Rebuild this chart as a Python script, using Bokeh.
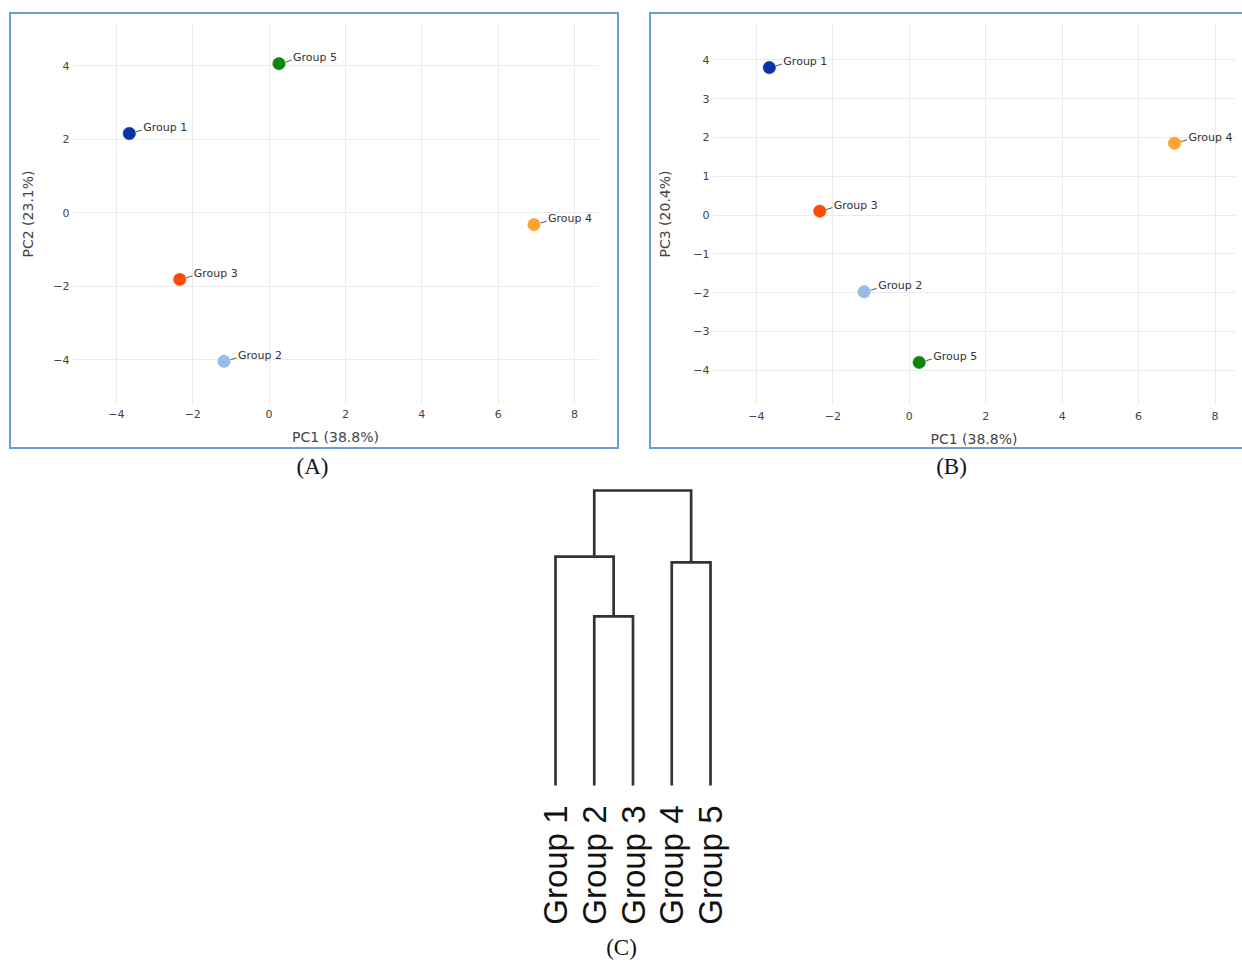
import math
from bokeh.plotting import figure
from bokeh.layouts import column, row
from bokeh.models import Spacer, FixedTicker, CustomJSTickFormatter, ColumnDataSource, Range1d
from bokeh.core.properties import value
from bokeh.embed import file_html
from bokeh.resources import INLINE

# ---------------- data ----------------
groups = ["Group 1", "Group 2", "Group 3", "Group 4", "Group 5"]
colors = ["#0a33a8", "#99bbe6", "#ff4a08", "#ffa331", "#0b870b"]
pc1 = [-3.66, -1.18, -2.34, 6.94, 0.26]
pc2 = [2.15, -4.05, -1.82, -0.33, 4.05]
pc3 = [3.80, -1.98, 0.10, 1.85, -3.80]
xlab = "PC1 (38.8%)"
ylab_a = "PC2 (23.1%)"
ylab_b = "PC3 (20.4%)"
ticks_a_x = [-4, -2, 0, 2, 4, 6, 8]
ticks_a_y = [-4, -2, 0, 2, 4]
ticks_b_y = [-4, -3, -2, -1, 0, 1, 2, 3, 4]
# dendrogram: leaf order and merges (left child, right child, height)
leaf_order = ["Group 1", "Group 2", "Group 3", "Group 4", "Group 5"]
merges = [("Group 2", "Group 3", 0.573),
          ("Group 1", "M0", 0.776),
          ("Group 4", "Group 5", 0.756),
          ("M1", "M2", 1.0)]

FONT = "DejaVu Sans"
TXT = "#444444"
minus_fmt = CustomJSTickFormatter(code="return tick < 0 ? '\\u2212' + Math.abs(tick) : String(tick);")


def pca_panel(ys, ylab, yticks, xr, yr, fw, fh, mbl, mbr, mbt, mbb, border,
              xstand, xlstand, ylstand):
    p = figure(width=mbl + fw + mbr, height=mbt + fh + mbb,
               x_range=Range1d(*xr), y_range=Range1d(*yr),
               output_backend="svg", toolbar_location=None,
               min_border_left=mbl, min_border_right=mbr,
               min_border_top=mbt, min_border_bottom=mbb)
    p.styles = border
    p.outline_line_color = None
    p.background_fill_color = "white"
    p.border_fill_color = "white"
    for ax in (p.xaxis[0], p.yaxis[0]):
        ax.axis_line_color = None
        ax.major_tick_line_color = None
        ax.minor_tick_line_color = None
        ax.major_tick_out = 0
        ax.major_tick_in = 0
        ax.minor_tick_out = 0
        ax.major_label_text_font = FONT
        ax.major_label_text_font_size = "11px"
        ax.major_label_text_color = TXT
        ax.axis_label_text_font = FONT
        ax.axis_label_text_font_size = "14px"
        ax.axis_label_text_font_style = "normal"
        ax.axis_label_text_color = TXT
        ax.formatter = minus_fmt
    p.xaxis.ticker = FixedTicker(ticks=ticks_a_x)
    p.yaxis.ticker = FixedTicker(ticks=yticks)
    p.xaxis.axis_label = xlab
    p.yaxis.axis_label = ylab
    p.xaxis.major_label_standoff = xstand
    p.xaxis.axis_label_standoff = xlstand
    p.yaxis.major_label_standoff = 3
    p.yaxis.axis_label_standoff = ylstand
    p.grid.grid_line_color = "#ebebeb"
    p.grid.grid_line_width = 1

    # pixel scale for leader lines
    sx = fw / (xr[1] - xr[0])
    sy = fh / (yr[1] - yr[0])
    src = ColumnDataSource(dict(x=pc1, y=ys, c=colors, t=groups,
                                x0=[v + 6.5 / sx for v in pc1],
                                y0=[v + 1.5 / sy for v in ys],
                                x1=[v + 12.5 / sx for v in pc1],
                                y1=[v + 3.5 / sy for v in ys]))
    p.segment(x0="x0", y0="y0", x1="x1", y1="y1", source=src,
              line_color="#555555", line_width=1)
    p.scatter(x="x", y="y", source=src, size=12.5, fill_color="c",
              line_color="c", line_width=0.5)
    p.text(x="x", y="y", text="t", source=src, x_offset=14, y_offset=-6,
           text_font=value(FONT), text_font_size="11px", text_color="#333333",
           text_align="left", text_baseline="middle")
    return p


border_a = {"border": "2px solid #6a9fd8", "box-sizing": "content-box"}
border_b = {"border-left": "2px solid #6a9fd8", "border-top": "2px solid #6a9fd8",
            "border-bottom": "2px solid #6a9fd8", "box-sizing": "content-box"}

pA = pca_panel(pc2, ylab_a, ticks_a_y, (-5.148, 8.629), (-5.224, 5.143),
               522, 377, 61, 23, 9, 47, border_a, 5, 8, 14)
pB = pca_panel(pc3, ylab_b, ticks_b_y, (-5.147, 8.535), (-4.884, 4.936),
               521, 378, 61, 9, 9, 46, border_b, 7, 8, 17)

# ---------------- dendrogram ----------------
pos = {g: i + 1 for i, g in enumerate(leaf_order)}
hgt = {g: 0.0 for g in leaf_order}
members = {g: [pos[g]] for g in leaf_order}
xs, ys = [], []
for k, (a, b, h) in enumerate(merges):
    name = "M%d" % k
    xa, xb = sum(members[a]) / len(members[a]), sum(members[b]) / len(members[b])
    xs.append([xa, xa, xb, xb])
    ys.append([hgt[a], h, h, hgt[b]])
    members[name] = members[a] + members[b]
    hgt[name] = h

pC = figure(width=1242, height=513, x_range=Range1d(-13.323, 18.729),
            y_range=Range1d(-0.00678, 1.1186), output_backend="svg",
            toolbar_location=None, y_axis_location=None,
            min_border_left=0, min_border_right=0, min_border_top=6,
            min_border_bottom=175)
pC.outline_line_color = None
pC.grid.visible = False
pC.multi_line(xs=xs, ys=ys, line_color="#333333", line_width=2.7,
              line_join="miter")
ax = pC.xaxis[0]
ax.ticker = FixedTicker(ticks=[pos[g] for g in leaf_order])
ax.major_label_overrides = {pos[g]: g for g in leaf_order}
ax.major_label_orientation = math.pi / 2
ax.major_label_text_font = "Liberation Sans"
ax.major_label_text_font_size = "33px"
ax.major_label_text_color = "#111111"
ax.major_label_standoff = 18
ax.major_tick_out = 0
ax.major_tick_in = 0
ax.minor_tick_out = 0
ax.axis_line_color = None
ax.major_tick_line_color = None
ax.minor_tick_line_color = None
ax.axis_label = "(C)"
ax.axis_label_text_font = "Liberation Serif"
ax.axis_label_text_font_size = "23px"
ax.axis_label_text_font_style = "normal"
ax.axis_label_text_color = "#111111"
ax.axis_label_standoff = 7

panel_labels = ["(A)", "(B)"]
label_x = [-5.271, 11.219]
label_y = [1.081, 1.081]
pC.text(x=label_x, y=label_y, text=panel_labels, text_font=value("Liberation Serif"),
        text_font_size="23px", text_color="#111111", text_align="center",
        text_baseline="middle")

layout = column(
    Spacer(width=10, height=12),
    row(Spacer(width=9, height=10), pA, Spacer(width=30, height=10), pB),
    pC,
)

open("out.html", "w").write(file_html(layout, INLINE))
